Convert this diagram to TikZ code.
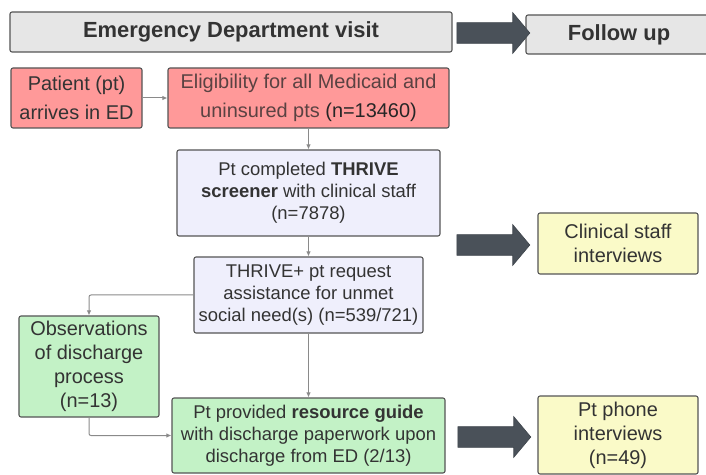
\documentclass[tikz,border=0pt]{standalone}
\usepackage{fontspec}
\setmainfont{Liberation Sans}
\usetikzlibrary{shapes.arrows,arrows.meta,positioning}

\definecolor{hdrfill}{HTML}{E6E6E6}
\definecolor{edgegray}{HTML}{555555}
\definecolor{redfill}{HTML}{FF9999}
\definecolor{redtext}{HTML}{5A4242}
\definecolor{bluefill}{HTML}{EFEFFC}
\definecolor{greenfill}{HTML}{C3F2C6}
\definecolor{yellowfill}{HTML}{FAFAC8}
\definecolor{bigarr}{HTML}{4A5159}
\definecolor{linegray}{HTML}{8A8A8A}
\definecolor{txt}{HTML}{333333}

\begin{document}
\begin{tikzpicture}[x=1bp, y=-1bp,
    box/.style={rectangle, draw=edgegray, line width=1.1bp, rounded corners=2bp, align=center, inner sep=0pt, text=txt},
    hdrbox/.style={box, fill=hdrfill, font=\fontsize{22}{26}\selectfont\bfseries},
    redbox/.style={box, fill=redfill, font=\fontsize{20}{29}\selectfont},
    bluebox/.style={box, fill=bluefill, font=\fontsize{18.5}{22}\selectfont},
    greenbox/.style={box, fill=greenfill, font=\fontsize{18.5}{22}\selectfont},
    yellowbox/.style={box, fill=yellowfill, font=\fontsize{20}{24}\selectfont},
    bigarrow/.style={single arrow, fill=bigarr, draw=bigarr!85!black, line width=0.6bp, inner xsep=0pt, inner ysep=10bp, single arrow head extend=10bp, single arrow tip angle=100, minimum height=73bp},
    arrow/.style={-{Latex[length=5bp,width=4.5bp]}, draw=linegray, line width=1bp, rounded corners=2bp}
]
    \useasboundingbox (0,0) rectangle (706,475);

    % header row
    \node[hdrbox, minimum width=442bp, minimum height=40bp] (visit) at (231,32) {Emergency Department visit};
    \node[hdrbox, minimum width=186bp, minimum height=39bp] (follow) at (619,34.5) {Follow up};
    \node[bigarrow] (arrtop) at (489,33) {};

    % ED flow
    \node[redbox, minimum width=131bp, minimum height=60bp] (patient) at (76.5,98) {Patient (pt)\\arrives in ED};
    \node[redbox, text=redtext, minimum width=281bp, minimum height=60bp] (elig) at (308.5,98)
        {Eligibility for all Medicaid and\\uninsured pts \textcolor{black!85}{(n=13460)}};
    \node[bluebox, minimum width=263bp, minimum height=86bp] (screen) at (308.5,193)
        {Pt completed \textbf{THRIVE}\\\textbf{screener} with clinical staff\\(n=7878)};
    \node[bluebox, minimum width=229bp, minimum height=76bp] (request) at (308.5,295)
        {THRIVE+ pt request\\assistance for unmet\\social need(s) (n=539/721)};
    \node[greenbox, font=\fontsize{20}{24}\selectfont, minimum width=140bp, minimum height=101bp] (observe) at (89,366.5)
        {Observations\\of discharge\\process\\(n=13)};
    \node[greenbox, minimum width=273bp, minimum height=75bp] (guide) at (308.5,435.5)
        {Pt provided \textbf{resource guide}\\with discharge paperwork upon\\discharge from ED (2/13)};

    % follow up
    \node[yellowbox, minimum width=160bp, minimum height=61bp] (staff) at (618,243.5) {Clinical staff\\interviews};
    \node[yellowbox, minimum width=160bp, minimum height=78bp] (phone) at (618,435) {Pt phone\\interviews\\(n=49)};
    \node[bigarrow] (arrmid) at (489,245) {};
    \node[bigarrow] (arrbot) at (490,437) {};

    \draw[arrow] (patient) -- (elig);
    \draw[arrow] (elig.south) -- (screen.north);
    \draw[arrow] (screen.south) -- (request.north);
    \draw[arrow] (request.south) -- (guide.north);
    \draw[arrow] (request.west) -| (observe.north);
    \draw[arrow] (observe.south) |- (guide.west);
\end{tikzpicture}
\end{document}
